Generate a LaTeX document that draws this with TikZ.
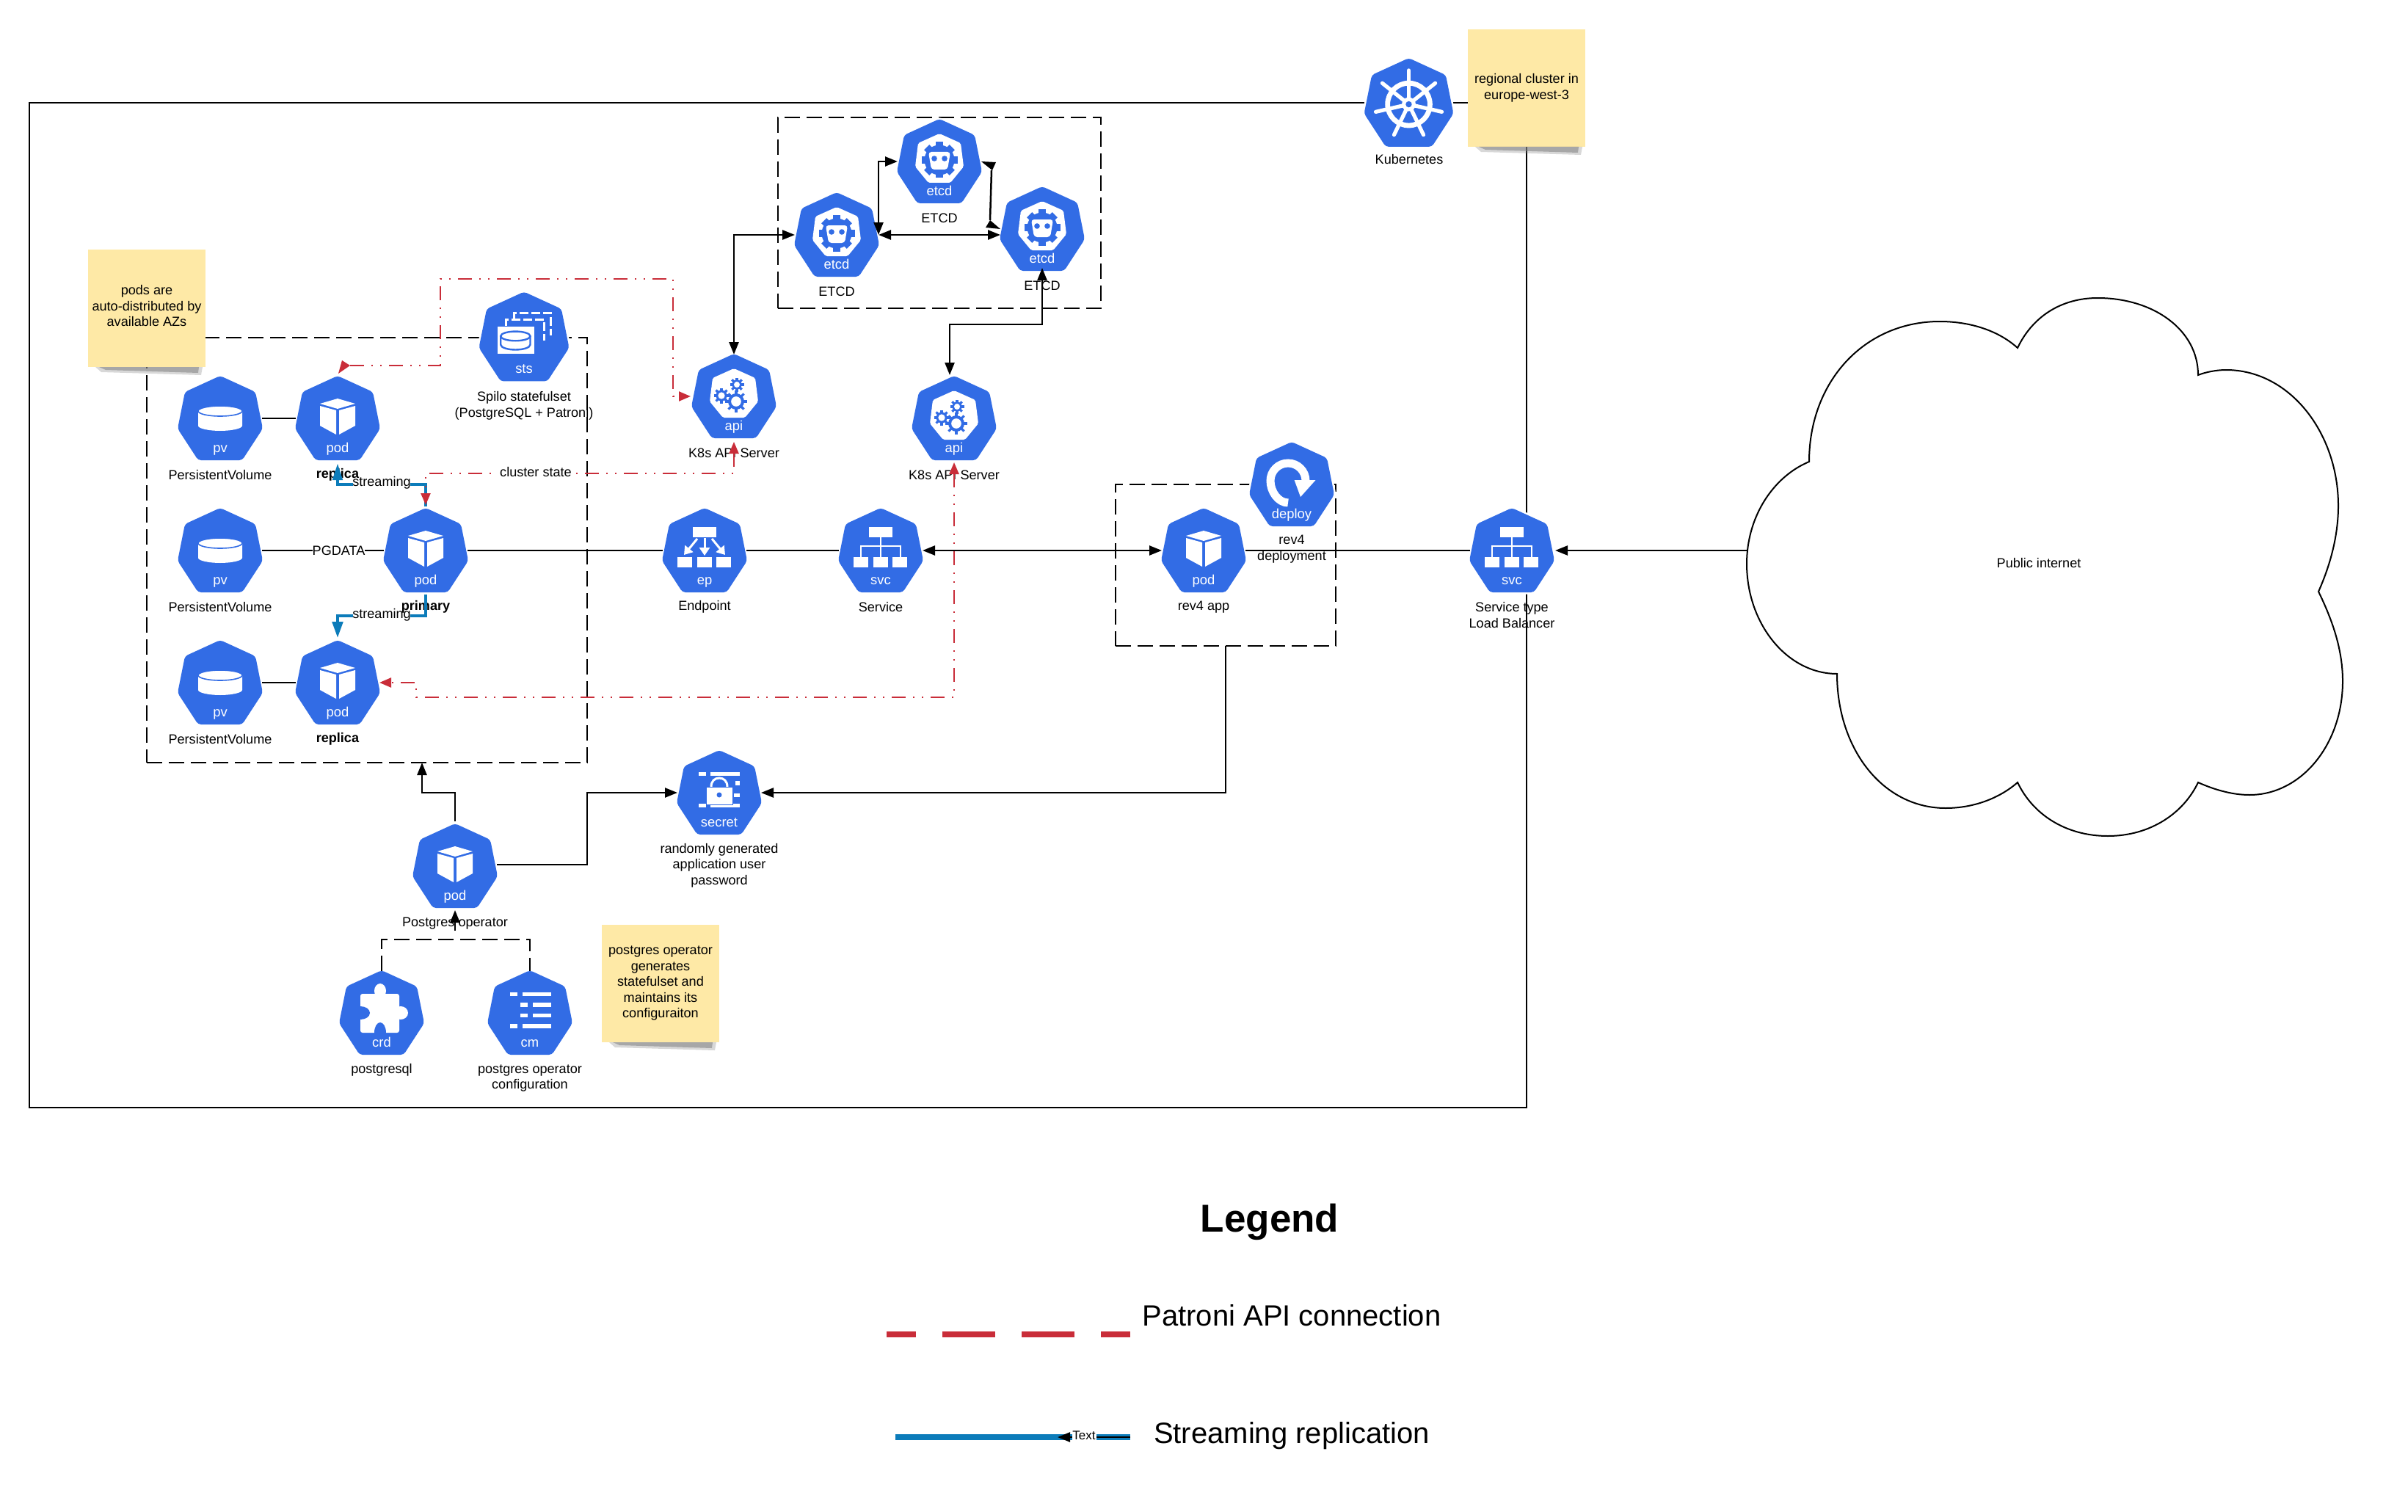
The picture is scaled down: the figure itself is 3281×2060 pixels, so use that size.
\documentclass[tikz,border=0pt]{standalone}
\usepackage{fontspec}
\setmainfont{Liberation Sans}
\usetikzlibrary{arrows.meta,calc}
\definecolor{kblue}{HTML}{326CE5}
\definecolor{kred}{HTML}{C92D39}
\definecolor{kstream}{HTML}{0C7CBA}
\definecolor{knote}{HTML}{FEE9A6}
\newcommand{\hexpath}{(0,-58) -- (48,-36) -- (58,14) -- (30,57) -- (-30,57) -- (-58,14) -- (-48,-36) -- cycle}
\newcommand{\innerhex}{(0,-38) -- (29,-25) -- (33,7) -- (15,29) -- (-15,29) -- (-33,7) -- (-29,-25) -- cycle}
\tikzset{
  bk/.tip={Triangle[length=8.5pt,width=6.5pt]},
  rd/.tip={Triangle[length=8pt,width=6.5pt]},
  bl/.tip={Triangle[length=11pt,width=7.2pt]},
  iconbox/.style={inner sep=0pt,outer sep=0pt,rectangle},
  iconlabel/.style={text=white,font=\fontsize{9.2}{11}\selectfont,inner sep=0pt,text height=7pt,text depth=2pt},
  lab/.style={font=\fontsize{9.05}{10.75}\selectfont,align=center,inner sep=0pt},
  note/.style={fill=knote,inner sep=0pt,outer sep=0pt,font=\fontsize{9.05}{10.75}\selectfont,align=center,minimum width=80pt},
  conn/.style={draw=black,line width=1.25pt},
  dashpat/.style={draw=black,line width=1.25pt,dash pattern=on 10.5pt off 4.5pt},
  boxn/.style={rectangle,inner sep=0pt,outer sep=0pt},
  patroni/.style={draw=kred,line width=1.2pt,dash pattern=on 9.5pt off 5pt on 1pt off 5pt on 1pt off 5pt},
  stream/.style={draw=kstream,line width=2pt},
}
% kgear: x,y,disc radius,tooth radius,hole radius,tooth count step
\newcommand{\kgear}[5]{%
  \begin{scope}[shift={(#1,#2)}]
    \foreach \a in {0,#5,...,359}{\fill[kblue,rotate=\a] (-1.6,0) rectangle (1.6,#4);}
    \fill[kblue] (0,0) circle [radius=#3];
    \fill[white] (0,0) circle [radius=#3*0.62];
  \end{scope}}
\newcommand{\gPod}{%
  \fill[white] (0,-27) -- (24,-20) -- (0,-13) -- (-24,-20) -- cycle;
  \fill[white] (-24,-17) -- (-2,-11) -- (-2,22) -- (-24,10) -- cycle;
  \fill[white] (2,-11) -- (24,-17) -- (24,10) -- (2,22) -- cycle;}
\newcommand{\gPv}{%
  \fill[white] (-30,-10) -- (-30,10) .. controls (-30,14) and (-15,17) .. (0,17) .. controls (15,17) and (30,14) .. (30,10) -- (30,-10) -- cycle;
  \filldraw[fill=white,draw=kblue,line width=.8pt] (0,-10) ellipse [x radius=30,y radius=7];}
\newcommand{\gBoxes}{%
  \fill[white] (-16,-32) rectangle (16,-18);
  \fill[white] (-37,9) rectangle (-17,23);
  \fill[white] (-10,9) rectangle (10,23);
  \fill[white] (16,9) rectangle (36,23);}
\newcommand{\gSvc}{\gBoxes
  \draw[white,line width=1pt] (0,-18) -- (0,9) (-27,9) -- (-27,-6) -- (27,-6) -- (27,9);}
\newcommand{\gEp}{\gBoxes
  \draw[white,line width=1.5pt,-{Triangle[length=5.5pt,width=7pt]}] (0,-17) -- (0,7);
  \draw[white,line width=1.5pt,-{Triangle[length=5.5pt,width=7pt]}] (-10,-16) -- (-28,6);
  \draw[white,line width=1.5pt,-{Triangle[length=5.5pt,width=7pt]}] (10,-16) -- (28,6);}
\newcommand{\gDeploy}{%
  \draw[white,line width=5.5pt] (-5,25) .. controls (-18.25,25) and (-29,10) .. (-29,-5) .. controls (-29,-18.25) and (-18.25,-29) .. (-5,-29) .. controls (8.25,-29) and (19,-18.25) .. (19,-5);
  \fill[white] (3.6,-6) -- (32.6,-6) -- (12,17) -- cycle;}
\newcommand{\gSts}{%
  \draw[white,line width=1.5pt,dash pattern=on 6pt off 2pt] (-13,-23) -- (-13,-31) -- (34,-31) -- (34,-2);
  \draw[white,line width=1.5pt,dash pattern=on 6pt off 2pt] (-23,-14) -- (-23,-22) -- (26,-22) -- (26,5);
  \fill[white] (-34,-13) rectangle (13,22);
  \draw[kblue,line width=1.2pt] (-30,-1) -- (-30,10) .. controls (-30,14) and (-20,16.5) .. (-11,16.5) .. controls (-2,16.5) and (8,14) .. (8,10) -- (8,-1);
  \draw[kblue,line width=1.2pt] (-11,-1) ellipse [x radius=19,y radius=6];}
\newcommand{\gApi}{%
  \fill[white,rounded corners=1pt] \innerhex;
  \kgear{-17}{-1}{7.5}{10.5}{45}
  \kgear{4}{-16}{6.5}{9.5}{45}
  \kgear{3}{7}{11}{15}{45}}
\newcommand{\gEtcd}{%
  \fill[white,rounded corners=1pt] \innerhex;
  \begin{scope}[shift={(0,-2)}]
    \foreach \a in {0,45,...,359}{\fill[kblue,rotate=\a] (-5,0) rectangle (5,24.5);}
    \fill[kblue] (0,0) circle [radius=20.5];
  \end{scope}
  \fill[white,rounded corners=2pt] (-15,-13) -- (15,-13) -- (11,11) -- (-11,11) -- cycle;
  \fill[kblue] (-7,-4) circle [radius=3.8];
  \fill[kblue] (7,-4) circle [radius=3.8];}
\newcommand{\gSecret}{%
  \fill[white] (-28,-28) rectangle (-18,-23);
  \fill[white] (-12,-28) rectangle (28,-23);
  \fill[white] (22,-16) rectangle (28,-10);
  \fill[white] (20,1) rectangle (28,6);
  \fill[white] (-28,15) rectangle (-18,20);
  \fill[white] (-12,15) rectangle (28,20);
  \draw[white,line width=1.5pt] (-11,-8) .. controls (-11,-16) and (-6,-20) .. (0,-20) .. controls (6,-20) and (11,-16) .. (11,-8);
  \filldraw[fill=white,draw=kblue,line width=.5pt] (-18,-8) rectangle (18,16);
  \fill[kblue] (0,3) circle [radius=3.5];}
\newcommand{\gCrd}{%
  \fill[white,rounded corners=1.5pt] (-29,-26) rectangle (24,27);
  \fill[white] (-2,-30) ellipse [x radius=8,y radius=10];
  \fill[white] (26,0) ellipse [x radius=10,y radius=9];
  \fill[kblue] (-29,0) ellipse [x radius=13,y radius=9];
  \fill[kblue] (-2,27) ellipse [x radius=8,y radius=14];}
\newcommand{\gCm}{%
  \fill[white] (-27,-28) rectangle (-17,-23);
  \fill[white] (-10,-28) rectangle (29,-23);
  \fill[white] (-13,-14) rectangle (-3,-8);
  \fill[white] (4,-14) rectangle (29,-8);
  \fill[white] (-13,1) rectangle (-3,6);
  \fill[white] (4,1) rectangle (29,6);
  \fill[white] (-27,15) rectangle (-17,21);
  \fill[white] (-10,15) rectangle (29,21);}
\newcommand{\gK}{%
  \begin{scope}[shift={(0,2)}]
    \draw[white,line width=3.4pt] (0,0) circle [radius=27.5];
    \foreach \k in {0,...,6}{\draw[white,line width=2.6pt,line cap=round,rotate=\k*360/7] (0,0) -- (0,-44);}
    \fill[white] (0,0) circle [radius=9];
    \fill[kblue] (0,0) circle [radius=4];
  \end{scope}}
% name,x,y,scale,label,glyph
\newcommand{\kicon}[6]{%
  \node[iconbox,minimum size=#4*57pt] (#1) at (#2,#3) {};
  \begin{scope}[shift={(#2,#3)},scale=#4]
    \draw[white,line width=2.5pt,rounded corners=2pt] \hexpath;
    \fill[kblue,rounded corners=2pt] \hexpath;
    #6
    \node[iconlabel] (#1t) at (0,41.7) {#5};
  \end{scope}}
% name,x,y,height,text
\newcommand{\sticky}[5]{%
  \node[note,minimum height=#4*0.5pt] (#1) at (#2,#3) {#5};
  \fill[gray,opacity=.3] ($(#1.south west)+(10,0)$) -- ($(#1.south east)+(-4,0)$) -- ($(#1.south east)+(-6,11)$) -- ($(#1.south west)+(18,7)$) -- cycle;
  \fill[gray,opacity=.55] ($(#1.south west)+(15,0)$) -- ($(#1.south east)+(-9,0)$) -- ($(#1.south east)+(-10,8)$) -- ($(#1.south west)+(24,4)$) -- cycle;}
\begin{document}
\begin{tikzpicture}[x=0.5pt,y=-0.5pt]
\useasboundingbox (0,0) rectangle (3281,2060);
\fill[white] (0,0) rectangle (3281,2060);
% containers
\node[boxn,draw=black,line width=1.25pt,minimum width=1020pt,minimum height=684.5pt] (cluster) at (1060,824.5) {};
\node[boxn,dashpat,minimum width=300pt,minimum height=289.5pt] (azbox) at (500,749.5) {};
\node[boxn,dashpat,minimum width=220pt,minimum height=130pt] (etcdbox) at (1280,290) {};
\node[boxn,dashpat,minimum width=150pt,minimum height=110pt] (revbox) at (1670,770) {};
% cloud
\draw[line width=1pt] (2465,629) .. controls (2465,520) and (2540,438) .. (2643,438) .. controls (2680,438) and (2720,448) .. (2749,474)
 .. controls (2770,430) and (2810,406) .. (2858,406) .. controls (2935,406) and (2995,450) .. (2995,511)
 .. controls (3005,507) and (3020,504) .. (3033,504) .. controls (3120,504) and (3186,590) .. (3186,689) .. controls (3186,730) and (3175,770) .. (3159,806)
 .. controls (3178,845) and (3192,885) .. (3192,928) .. controls (3192,1015) and (3135,1083) .. (3065,1083) .. controls (3040,1083) and (3015,1075) .. (2995,1066)
 .. controls (2975,1108) and (2930,1139) .. (2872,1139) .. controls (2815,1139) and (2770,1110) .. (2749,1066)
 .. controls (2725,1087) and (2690,1101) .. (2651,1101) .. controls (2565,1101) and (2503,1020) .. (2503,918)
 .. controls (2435,918) and (2380,850) .. (2380,768) .. controls (2380,705) and (2415,650) .. (2465,629) -- cycle;
\node[lab] (cloudtxt) at (2778,767) {Public internet};
\coordinate (cloudin) at (2380,750);
% notes
\sticky{notepods}{200}{420}{160}{}
\node[lab] (notepodst) at (200,417) {pods are\\auto-distributed by\\available AZs};
\sticky{noteregion}{2080}{120}{160}{regional cluster in\\europe-west-3}
\sticky{noteop}{900}{1340}{160}{postgres operator\\generates\\statefulset and\\maintains its\\configuraiton}
% icons
\kicon{kube}{1919.5}{140}{1.05}{}{\gK}
\kicon{sts}{714}{459}{1.06}{sts}{\gSts}
\kicon{pvA}{300}{570}{1}{pv}{\gPv}
\kicon{pvB}{300}{750}{1}{pv}{\gPv}
\kicon{pvC}{300}{930}{1}{pv}{\gPv}
\kicon{podA}{460}{570}{1}{pod}{\gPod}
\kicon{podB}{580}{750}{1}{pod}{\gPod}
\kicon{podC}{460}{930}{1}{pod}{\gPod}
\kicon{apiA}{1000}{540}{1}{api}{\gApi}
\kicon{apiB}{1300}{570}{1}{api}{\gApi}
\kicon{etcdA}{1140}{320}{1}{etcd}{\gEtcd}
\kicon{etcdB}{1280}{220}{1}{etcd}{\gEtcd}
\kicon{etcdC}{1420}{312}{1}{etcd}{\gEtcd}
\kicon{ep}{960}{750}{1}{ep}{\gEp}
\kicon{svc}{1200}{750}{1}{svc}{\gSvc}
\kicon{podR}{1640}{750}{1}{pod}{\gPod}
\kicon{deploy}{1760}{660}{1}{deploy}{\gDeploy}
\kicon{svcL}{2060}{750}{1}{svc}{\gSvc}
\kicon{secret}{980}{1080}{1}{secret}{\gSecret}
\kicon{podO}{620}{1180}{1}{pod}{\gPod}
\kicon{crd}{520}{1380}{1}{crd}{\gCrd}
\kicon{cm}{722}{1380}{1}{cm}{\gCm}
% labels
\node[lab] (lkube) at (1920,217) {Kubernetes};
\node[lab] (lsts) at (714,553) {Spilo statefulset\\(PostgreSQL + Patroni)};
\node[lab] (lpvA) at (300,647) {PersistentVolume};
\node[lab] (lpvB) at (300,827) {PersistentVolume};
\node[lab] (lpvC) at (300,1007) {PersistentVolume};
\node[lab] (lpodA) at (460,647) {\textbf{replica}};
\node[lab] (lpodB) at (580,827) {\textbf{primary}};
\node[lab] (lpodC) at (460,1007) {\textbf{replica}};
\node[lab] (lapiA) at (1000,617) {K8s API Server};
\node[lab] (lapiB) at (1300,647) {K8s API Server};
\node[lab] (letA) at (1140,397) {ETCD};
\node[lab] (letB) at (1280,297) {ETCD};
\node[lab] (letC) at (1420,389) {ETCD};
\node[lab] (lep) at (960,827) {Endpoint};
\node[lab] (lsvc) at (1200,827) {Service};
\node[lab] (lpodR) at (1640,827) {rev4 app};
\node[lab] (ldep) at (1760,748) {rev4\\deployment};
\node[lab] (lsvcL) at (2060,838) {Service type\\Load Balancer};
\node[lab] (lsec) at (980,1179) {randomly generated\\application user\\password};
\node[lab] (lpodO) at (620,1258) {Postgres operator};
\node[lab] (lcrd) at (520,1458) {postgresql};
\node[lab] (lcm) at (722,1469) {postgres operator\\configuration};
% plain connectors
\draw[conn] (pvA.east) -- (podA.west);
\draw[conn] (pvB.east) -- node[lab,pos=0.63,fill=white,inner xsep=0pt,inner ysep=1pt] (lpg) {PGDATA} (podB.west);
\draw[conn] (pvC.east) -- (podC.west);
\draw[conn] (podB.east) -- (ep.west);
\draw[conn] (ep.east) -- (svc.west);
\draw[conn,{bk}-{bk}] (svc.east) -- (podR.west);
\draw[conn] (podR.east) -- (svcL.west);
\draw[conn,-{bk},shorten >=1pt] (cloudin) -- (svcL.east);
% etcd
\draw[conn,{bk}-{bk}] (etcdA.east) -- (etcdC.west |- etcdA.east);
\draw[conn,{bk}-{bk},shorten <=0pt] (etcdA.east) -- (etcdA.east |- etcdB.west) -- (etcdB.west);
\draw[conn] ($(etcdB.east)+(14,12)$) -- ($(etcdC.west)+(-14,-12)$);
\fill[black] (etcdB.east) -- ++(20,1) -- ++(-5,11) -- cycle;
\fill[black] (etcdC.west) -- ++(-20,-2) -- ++(6,-10) -- cycle;
\draw[conn,{bk}-{bk}] (apiA.north) -- (apiA.north |- etcdA.west) -- (etcdA.west);
\draw[conn,{bk}-{bk},shorten <=1pt,shorten >=-2pt] ($(apiB.north)+(-6,0)$) -- (1294,442) -- (1420,442) -- (etcdC.south);
% operator
\draw[conn,-{bk},shorten <=2pt] (podO.north) -- (620,1080) -- (575,1080) -- (575,1039);
\draw[conn,-{bk}] ($(podO.east)+(0,-2)$) -- (800,1178) -- (800,1080) -- (secret.west);
\draw[conn,-{bk}] (revbox.south) |- (secret.east);
\draw[dashpat] (crd.north) -- (520,1280) -- (722,1280) -- (cm.north);
\draw[conn,-{bk},shorten >=1.5pt] (620,1268) -- (podO.south);
% streaming
\draw[stream,shorten <=1.5pt] (podB.north) -- (580,660) -- (559,660);
\draw[stream] (481,660) -- (460,660) -- ($(podA.south)+(0,26)$);
\fill[kstream] ($(podA.south)+(0,5)$) -- ++(7.2,22) -- ++(-14.4,0) -- cycle;
\node[lab] (lstA) at (520,658) {streaming};
\draw[stream,shorten <=1.5pt] (podB.south) -- (580,839) -- (559,839);
\draw[stream,-{bl},shorten >=2pt] (481,839) -- (460,839) -- (podC.north);
\node[lab] (lstB) at (520,838) {streaming};
% patroni
\draw[patroni,-{rd},shorten >=1pt] ($(podA.north)+(17,-15)$) -- (600,498) -- (600,380) -- (917,380) -- (917,540) -- (apiA.west);
\fill[kred] ($(podA.north)+(1,-4)$) -- ++(16,-11) -- ++(-11,-7) -- cycle;
\draw[patroni,{rd}-{rd},shorten <=2.5pt,shorten >=2.5pt] (apiA.south) -- (1000,645) -- (580,645) -- (podB.north);
\node[lab,fill=white,inner xsep=2pt,inner ysep=1pt] (lcs) at (730,643) {cluster state};
\draw[patroni,{rd}-{rd},shorten <=1.5pt] (apiB.south) -- (1300,950) -- (567,950) -- (567,930) -- (podC.east);
% legend
\node[font=\fontsize{26.5}{30}\selectfont\bfseries,inner sep=0pt] (lgd) at (1730,1665) {Legend};
\node[font=\fontsize{20}{24}\selectfont,inner sep=0pt] (lgdA) at (1760,1792) {Patroni API connection};
\node[font=\fontsize{20}{24}\selectfont,inner sep=0pt] (lgdB) at (1760,1956) {Streaming replication};
\coordinate (redL) at (1208,1818);
\coordinate (redR) at (1540,1818);
\draw[kred,line width=4pt,dash pattern=on 36pt off 18pt,dash phase=16pt] (redL) -- (redR);
\coordinate (bluL) at (1220,1958);
\coordinate (bluR) at (1540,1958);
\coordinate (bluT) at (1441,1958);
\draw[kstream,line width=4pt] (bluL) -- (bluR);
\draw[conn,-{bk}] (bluR) -- (bluT);
\node[font=\fontsize{8.5}{10}\selectfont,fill=white,inner sep=0pt,minimum width=16.5pt,minimum height=12pt] (lgdT) at (1477,1956) {Text};
\end{tikzpicture}
\end{document}
